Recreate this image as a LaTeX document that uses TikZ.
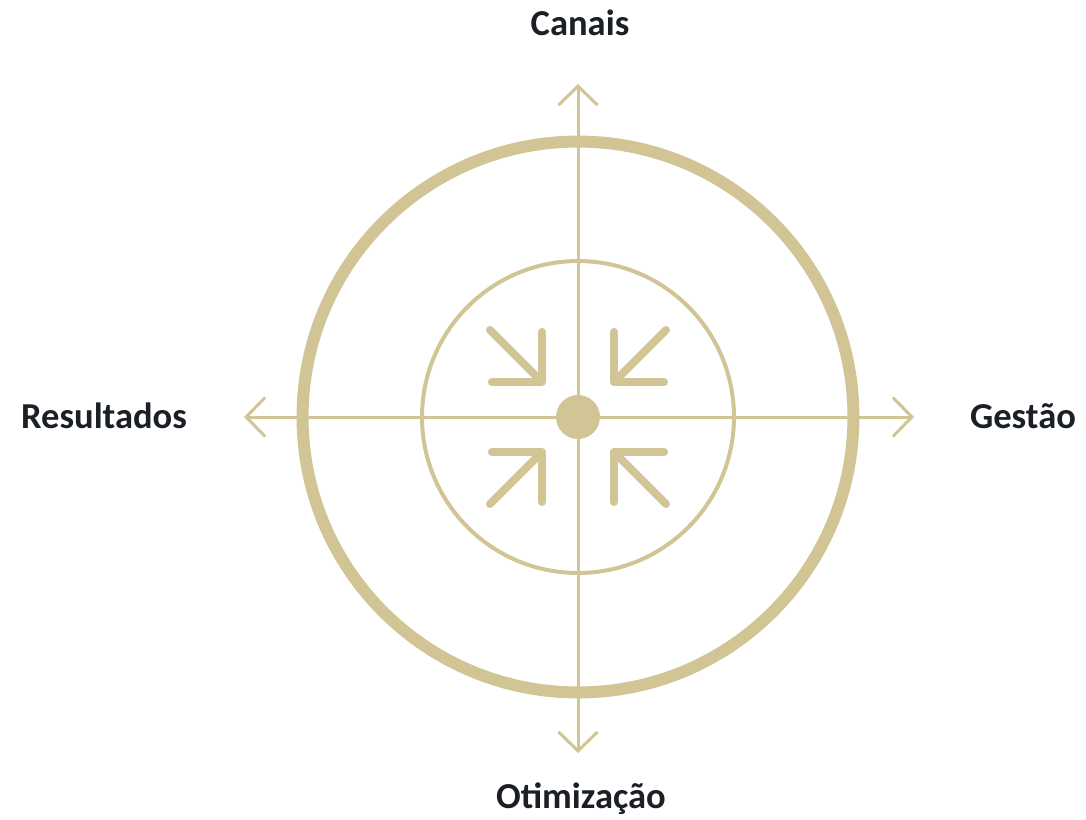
\documentclass[tikz,border=0pt]{standalone}
\usepackage{fontspec}
\setmainfont{Carlito}
\usepackage{tikz}
\usetikzlibrary{arrows.meta, positioning}
\definecolor{sand}{RGB}{209,197,149}
\definecolor{ink}{RGB}{27,32,38}

\begin{document}
\begin{tikzpicture}[
  x=0.02cm, y=-0.02cm,
  ring/.style={draw=sand, line width=0.24cm},
  innerring/.style={draw=sand, line width=0.08cm},
  axis/.style={draw=sand, line width=0.06cm,
               {Straight Barb[length=0.38cm, width=0.78cm]}-{Straight Barb[length=0.38cm, width=0.78cm]}},
  pull/.style={draw=sand, line width=0.16cm, line cap=round, line join=round},
  lbl/.style={font=\fontsize{20.8}{25}\selectfont\bfseries, text=ink, anchor=base, inner sep=0pt}
]
  \useasboundingbox (0,0) rectangle (1086,819);

  % Rings
  \coordinate (c) at (578,417);
  \draw[ring] (c) circle[radius=5.51cm];
  \draw[innerring] (c) circle[radius=3.12cm];

  % Axes
  \coordinate (top) at (578,84);
  \coordinate (bottom) at (578,753);
  \coordinate (left) at (244,417);
  \coordinate (right) at (914,417);
  \draw[axis] (bottom) -- (top);
  \draw[axis] (left) -- (right);

  % Hub
  \node[circle, fill=sand, minimum size=0.88cm, inner sep=0pt] (hub) at (c) {};

  % Inward arrows
  \foreach \sx/\sy in {1/1, -1/1, 1/-1, -1/-1}{
    \begin{scope}[shift={(c)}, xscale=\sx, yscale=\sy]
      \draw[pull] (-36,-85) -- (-36,-35) -- (-86,-35);
      \draw[pull] (-88,-87) -- (-40,-39);
    \end{scope}
  }

  % Labels
  \node[lbl] (canais) at (580,35) {Canais};
  \node[lbl] (resultados) at (104,428) {Resultados};
  \node[lbl] (gestao) at (1023,428) {Gestão};
  \node[lbl] (otimizacao) at (581,808) {Otimização};
\end{tikzpicture}
\end{document}
